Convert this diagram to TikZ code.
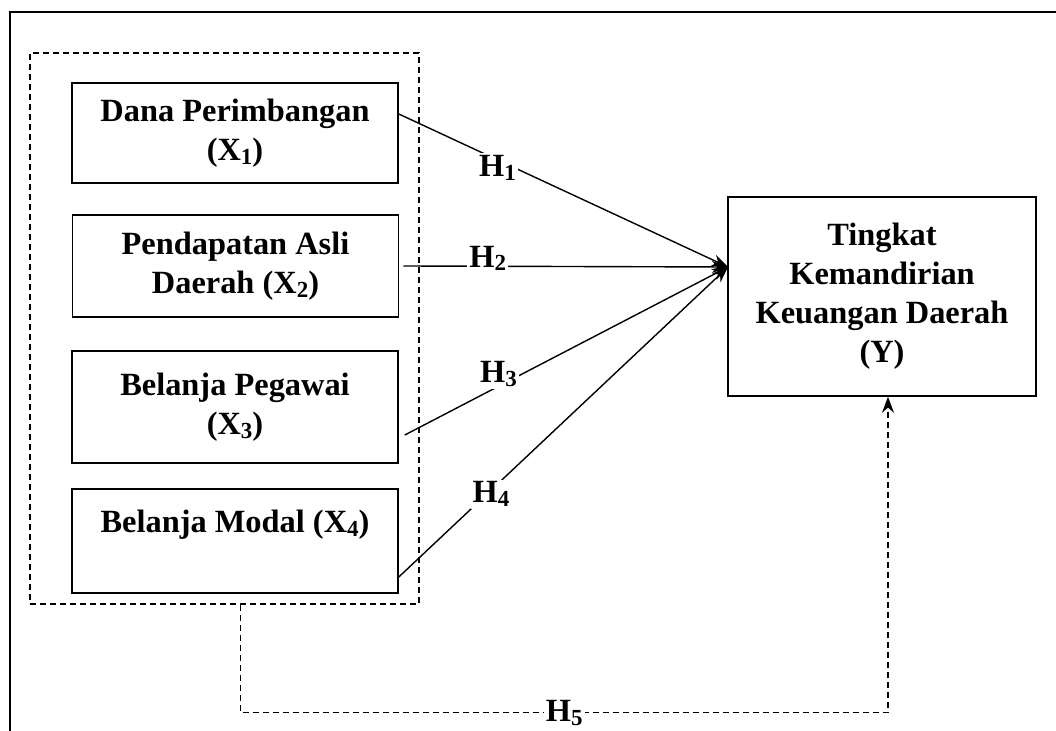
\documentclass[tikz,border=0pt]{standalone}
\usepackage{fontspec}
\setmainfont{Liberation Serif}
\usetikzlibrary{arrows.meta}
\newcommand{\sbs}[1]{\raisebox{-0.25ex}{\fontsize{11.5}{12}\selectfont #1}}

\begin{document}
\begin{tikzpicture}[x=0.5pt,y=-0.5pt,
  var/.style={draw,line width=0.8pt,align=center,inner sep=2pt,
    font=\fontsize{16.2}{19.5}\selectfont\bfseries},
  hyp/.style={fill=white,inner sep=1pt,font=\fontsize{16.2}{19.5}\selectfont\bfseries},
  link/.style={line width=0.7pt,-{Stealth[length=8pt,width=6pt]}},
  grp/.style={draw,dash pattern=on 3pt off 2pt,line width=0.8pt}]
 \useasboundingbox (0,0) rectangle (1056,731);
 \draw[line width=1.2pt] (10,731)--(10,12)--(1056,12);
 % group of the X variables
 \node[grp,minimum width=194.5pt,minimum height=275.5pt] (G) at (224.5,328.5) {};
 \node[var,minimum width=163pt,minimum height=50pt] (X1) at (235,133) {Dana Perimbangan\\(X\sbs1)};
 \node[var,minimum width=163pt,minimum height=51pt] (X2) at (235.5,266) {Pendapatan Asli\\Daerah (X\sbs2)};
 \node[var,minimum width=163pt,minimum height=56pt] (X3) at (235,407) {Belanja Pegawai\\(X\sbs3)};
 \node[var,minimum width=163pt,minimum height=52pt] (X4) at (235,541) {Belanja Modal (X\sbs4)\\\mbox{}};
 \node[var,minimum width=154pt,minimum height=99.5pt] (Y) at (882,296.5)
   {Tingkat\\Kemandirian\\Keuangan Daerah\\(Y)};
 \coordinate (yin) at (728,267);
 % hypotheses
 \draw[link] ([yshift=9.5pt]X1.east) -- node[hyp,pos=0.3,yshift=-4pt] {H\sbs1} (yin);
 \draw[link] ([xshift=2pt]X2.east) -- node[hyp,pos=0.26,yshift=4pt] {H\sbs2} (yin);
 \draw[link] ([xshift=3pt,yshift=-14pt]X3.east) -- node[hyp,pos=0.29,yshift=6pt] {H\sbs3} (yin);
 \draw[link] ([yshift=-18pt]X4.east) -- node[hyp,pos=0.28,yshift=-2pt] {H\sbs4} (yin);
 \draw[link,dash pattern=on 3pt off 2pt] ([xshift=8pt]G.south) -- ++(0,108)
   -| node[hyp,pos=0.25] {H\sbs5} ([xshift=3pt]Y.south);
\end{tikzpicture}
\end{document}
